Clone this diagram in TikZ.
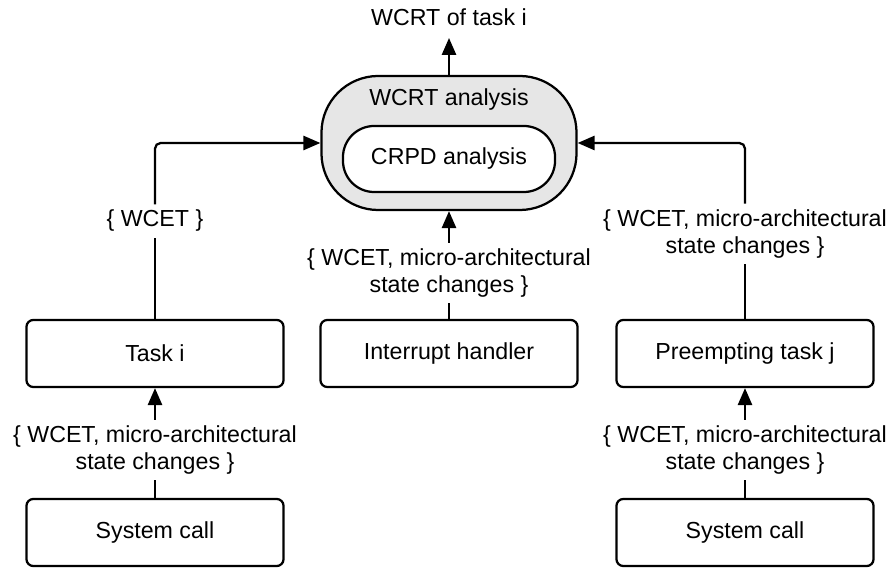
\documentclass[tikz,border=0pt]{standalone}
\usepackage{fontspec}
\setmainfont{Liberation Sans}
\definecolor{pillgray}{RGB}{230, 230, 230}
\usetikzlibrary{arrows.meta}

\begin{document}
\begin{tikzpicture}[
        x=0.025cm, y=-0.025cm,
        box/.style={draw, line width=1.6pt, rounded corners=0.17cm, minimum width=6.425cm, minimum height=1.675cm, align=center},
        pill/.style={draw, line width=1.6pt, minimum height=1.65cm},
        lbl/.style={align=center, inner sep=4pt},
        arr/.style={line width=1.6pt, -{Triangle[length=12pt, width=10pt]}},
        con/.style={line width=1.6pt, rounded corners=4pt},
        font=\fontsize{16.5}{19.5}\selectfont
      ]
        \useasboundingbox (0,0) rectangle (893,569);
        % analysis blocks
        \node[pill, fill=pillgray, rounded corners=1.42cm, minimum width=6.375cm, minimum height=3.35cm] (wcrt) at (449,143) {};
        \node[lbl, anchor=base] (wcrttxt) at (449,106) {WCRT analysis};
        \node[pill, fill=white, rounded corners=0.78cm, minimum width=5.3cm] (crpd) at (449,159) {CRPD analysis};
        \node[lbl, anchor=south, inner ysep=8.5pt] (out) at (449,38) {WCRT of task i};
        % tasks
        \node[box] (taski) at (155,353.5) {Task i};
        \node[box] (irq) at (449,353.5) {Interrupt handler};
        \node[box] (taskj) at (745,353.5) {Preempting task j};
        \node[box] (sysl) at (155,532.5) {System call};
        \node[box] (sysr) at (745,532.5) {System call};
        % labels on connectors
        \node[lbl] (lwcet) at (155,221) {\{ WCET \}};
        \node[lbl] (mwcet) at (449,273) {\{ WCET, micro-architectural\\state changes \}};
        \node[lbl] (rwcet) at (745,234) {\{ WCET, micro-architectural\\state changes \}};
        \node[lbl] (blwcet) at (155,450) {\{ WCET, micro-architectural\\state changes \}};
        \node[lbl] (brwcet) at (745,450) {\{ WCET, micro-architectural\\state changes \}};
        % connectors
        \draw[arr] (wcrt) -- (out);
        \draw[con] (taski) -- (lwcet);
        \draw[con, arr] (lwcet) |- (wcrt.west);
        \draw[con] (irq) -- (mwcet);
        \draw[arr] (mwcet) -- (wcrt);
        \draw[con] (taskj) -- (rwcet);
        \draw[con, arr] (rwcet) |- (wcrt.east);
        \draw[con] (sysl) -- (blwcet);
        \draw[arr] (blwcet) -- (taski);
        \draw[con] (sysr) -- (brwcet);
        \draw[arr] (brwcet) -- (taskj);
      \end{tikzpicture}
\end{document}
